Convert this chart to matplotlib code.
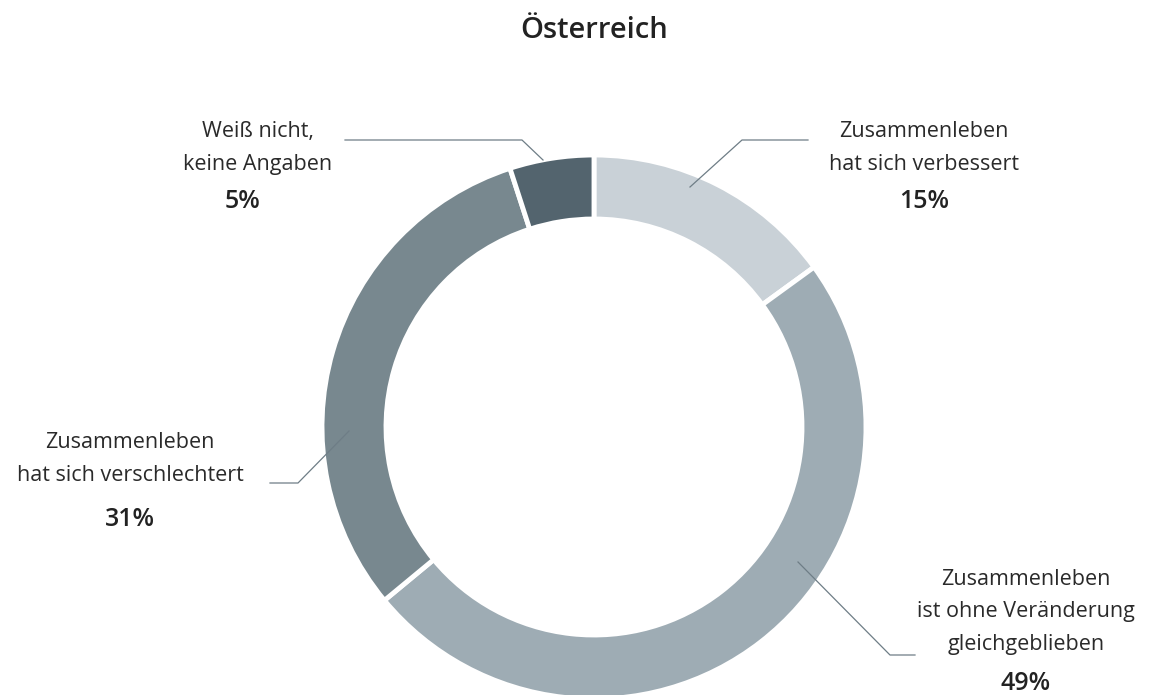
import matplotlib.pyplot as plt

plt.rcParams['font.family'] = ['Open Sans', 'DejaVu Sans']

title = "Österreich"
labels = ["Zusammenleben\nhat sich verbessert",
          "Zusammenleben\nist ohne Veränderung\ngleichgeblieben",
          "Zusammenleben\nhat sich verschlechtert",
          "Weiß nicht,\nkeine Angaben"]
values = [15, 49, 31, 5]
colors = ["#c9d1d7", "#9eacb4", "#78888f", "#53646e"]

W, H = 1150, 695
fig = plt.figure(figsize=(W / 100, H / 100), dpi=100)
ax = fig.add_axes([0, 0, 1, 1])

cx, cy, R = 594, H - 427, 272
ax.pie(values, colors=colors, startangle=90, counterclock=False,
       center=(cx, cy), radius=R, frame=True,
       wedgeprops=dict(width=64, edgecolor="white", linewidth=3.5))
ax.set_xlim(0, W)
ax.set_ylim(0, H)
ax.set_aspect("equal")
ax.axis("off")

# leader lines: (anchor in ring, elbow, end of horizontal), label pos, pct pos
lead = [
    ((690, 187), (742, 140), (808, 140), (924, 148), (924, 202)),
    ((798, 562), (890, 655), (915, 655), (1026, 612), (1026, 683)),
    ((349, 431), (298, 483), (270, 483), (130, 459), (130, 520)),
    ((543, 160), (522, 140), (345, 140), (258, 148), (243, 202)),
]
line_c = "#6e7d86"
for lab, v, (a, e, t, lp, pp) in zip(labels, values, lead):
    xs = [a[0], e[0], t[0]]
    ys = [H - a[1], H - e[1], H - t[1]]
    ax.plot(xs, ys, color=line_c, lw=0.9)
    ax.text(lp[0], H - lp[1], lab, ha="center", va="center", fontsize=15.5,
            color="#2a2a2a", linespacing=1.72)
    ax.text(pp[0], H - pp[1], f"{v}%", ha="center", va="center", fontsize=18,
            fontweight="semibold", color="#222222")

ax.text(594, H - 30, title, ha="center", va="center", fontsize=21,
        fontweight="semibold", color="#222222")

fig.savefig("out.png", dpi=100)
